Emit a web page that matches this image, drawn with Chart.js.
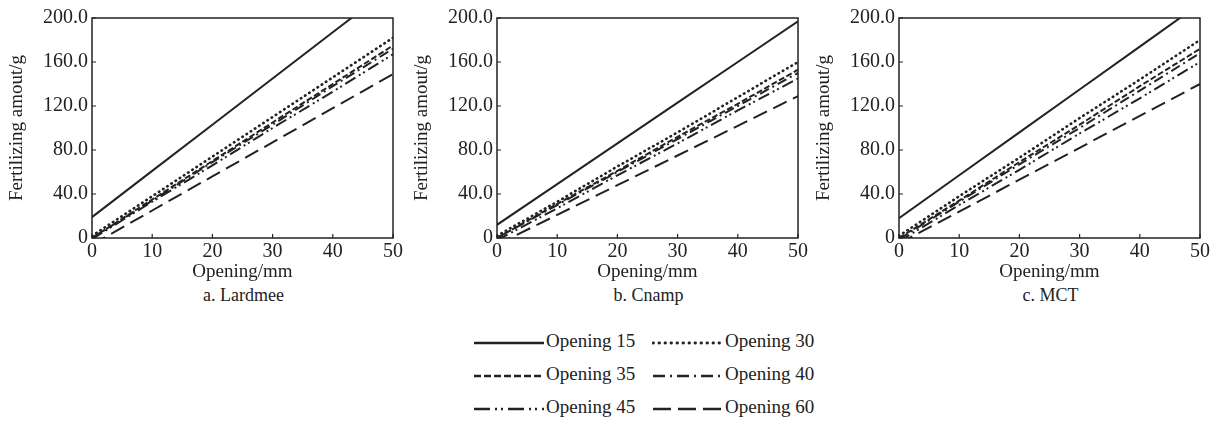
<!DOCTYPE html>
<html>
<head>
<meta charset="utf-8">
<script src="https://cdn.jsdelivr.net/npm/chart.js@4.4.1/dist/chart.umd.min.js"></script>
<style>
  body { margin: 0; background: #fff; width: 1218px; height: 425px; position: relative; overflow: hidden; font-family: "Liberation Serif", "Times New Roman", serif; color: #222; }
  .panel { position: absolute; top: 0; width: 405px; height: 283px; }
  .sub { position: absolute; top: 285px; font-size: 18px; text-align: center; width: 303px; font-family: "Liberation Serif", serif; }
  .legend { position: absolute; font-size: 19px; font-family: "Liberation Serif", serif; }
  .item { position: absolute; white-space: nowrap; height: 24px; line-height: 24px; font-family: "Liberation Serif", serif; }
  .item svg { vertical-align: middle; margin-right: 2px; }
</style>
</head>
<body>
<div class="panel" style="left:0px"><canvas id="c1"></canvas></div>
<div class="panel" style="left:405px"><canvas id="c2"></canvas></div>
<div class="panel" style="left:807px"><canvas id="c3"></canvas></div>
<div class="sub" style="left:92px">a. Lardmee</div>
<div class="sub" style="left:497px">b. Cnamp</div>
<div class="sub" style="left:899px">c. MCT</div>
<div id="legend" class="legend"></div>

<script>
"use strict";

// Opening/mm
const openings = [0, 10, 20, 30, 40, 50];
const series_names = ["Opening 15", "Opening 30", "Opening 35", "Opening 40", "Opening 45", "Opening 60"];
const y_ticks = [0, 40, 80, 120, 160, 200];

// a. Lardmee
const lardmee_15 = [19, 61, 103, 145, 187, 229];
const lardmee_30 = [2, 38, 74, 110, 146, 182];
const lardmee_35 = [0, 35, 70, 105, 140, 175];
const lardmee_40 = [0, 34, 69, 103, 138, 172];
const lardmee_45 = [-1, 33, 66, 100, 133, 167];
const lardmee_60 = [-6, 25, 56, 87, 118, 149];

// b. Cnamp
const cnamp_15 = [12, 49, 86, 123, 160, 197];
const cnamp_30 = [2, 33, 65, 96, 128, 160];
const cnamp_35 = [0, 31, 61, 92, 122, 153];
const cnamp_40 = [0, 30, 60, 90, 120, 150];
const cnamp_45 = [-2, 27, 57, 86, 116, 145];
const cnamp_60 = [-6, 21, 48, 75, 102, 129];

// c. MCT
const mct_15 = [18, 57, 96, 135, 174, 213];
const mct_30 = [2, 38, 73, 109, 144, 180];
const mct_35 = [0, 34, 69, 103, 138, 172];
const mct_40 = [-1, 33, 67, 100, 134, 168];
const mct_45 = [-3, 30, 62, 95, 127, 160];
const mct_60 = [-5, 24, 53, 82, 111, 140];

// line styles per series
const dashes = [[], [0.5, 4.5], [6, 2.5], [10, 4, 2, 4], [12, 4, 2, 3, 2, 4], [15, 7]];
const widths = [2, 2.6, 2, 2, 2, 2];
const ink = "#222";
const font_name = "'Liberation Serif', serif";

// frame + inward ticks
const frame_plugin = {
  id: "frame",
  afterDraw(chart) {
    const { ctx, chartArea, scales } = chart;
    ctx.save();
    ctx.strokeStyle = ink;
    ctx.lineWidth = 1.5;
    ctx.strokeRect(chartArea.left, chartArea.top, chartArea.right - chartArea.left, chartArea.bottom - chartArea.top);
    ctx.lineWidth = 1.2;
    ctx.beginPath();
    openings.forEach((v) => {
      const px = scales.x.getPixelForValue(v);
      ctx.moveTo(px, chartArea.bottom);
      ctx.lineTo(px, chartArea.bottom - 4);
    });
    y_ticks.forEach((v) => {
      const py = scales.y.getPixelForValue(v);
      ctx.moveTo(chartArea.left, py);
      ctx.lineTo(chartArea.left + 4, py);
    });
    ctx.stroke();
    ctx.restore();
  },
};

function make_chart(id, rows) {
  const datasets = rows.map((vals, i) => ({
    label: series_names[i],
    data: openings.map((x, k) => ({ x: x, y: vals[k] })),
    borderColor: ink,
    borderWidth: widths[i],
    borderDash: dashes[i],
    borderCapStyle: i === 1 ? "round" : "butt",
    pointRadius: 0,
    fill: false,
    tension: 0,
  }));

  new Chart(document.getElementById(id), {
    type: "line",
    data: { datasets: datasets },
    plugins: [frame_plugin],
    options: {
      responsive: true,
      maintainAspectRatio: false,
      animation: false,
      layout: { padding: { top: 18, right: 10, left: 6, bottom: 0 } },
      plugins: { legend: { display: false }, tooltip: { enabled: false } },
      scales: {
        x: {
          type: "linear",
          min: 0,
          max: 50,
          afterBuildTicks: (scale) => { scale.ticks = openings.map((v) => ({ value: v })); },
          afterFit: (scale) => { scale.height = 45; },
          grid: { display: false, drawTicks: false },
          border: { display: false },
          ticks: { color: ink, font: { family: font_name, size: 20 }, padding: 2 },
          title: { display: true, text: "Opening/mm", color: ink, font: { family: font_name, size: 19 }, padding: { top: 0, bottom: 0 } },
        },
        y: {
          min: 0,
          max: 200,
          afterBuildTicks: (scale) => { scale.ticks = y_ticks.map((v) => ({ value: v })); },
          afterFit: (scale) => { scale.width = 86; },
          grid: { display: false, drawTicks: false },
          border: { display: false },
          ticks: {
            color: ink,
            font: { family: font_name, size: 20 },
            padding: 4,
            callback: (v) => (v === 0 ? "0" : v.toFixed(1)),
          },
          title: { display: true, text: "Fertilizing amout/g", color: ink, font: { family: font_name, size: 19 }, padding: { top: 0, bottom: 0 } },
        },
      },
    },
  });
}

make_chart("c1", [lardmee_15, lardmee_30, lardmee_35, lardmee_40, lardmee_45, lardmee_60]);
make_chart("c2", [cnamp_15, cnamp_30, cnamp_35, cnamp_40, cnamp_45, cnamp_60]);
make_chart("c3", [mct_15, mct_30, mct_35, mct_40, mct_45, mct_60]);

// legend: two columns, three rows
const legend_dashes = [[], [0.5, 5.5], [7, 3], [12, 5, 2, 5], [16, 5, 2, 4, 2, 5], [18, 7]];
const legend = document.getElementById("legend");
const col_x = [473, 652];
const sample_w = 71;
const row_y = [329, 362, 395];
series_names.forEach((name, i) => {
  const col = i % 2;
  const row = Math.floor(i / 2);
  const div = document.createElement("div");
  div.className = "item";
  div.style.left = col_x[col] + "px";
  div.style.top = row_y[row] + "px";
  const dash = legend_dashes[i].join(" ");
  const cap = i === 1 ? "round" : "butt";
  const sw = i === 1 ? 2.8 : 2.4;
  div.innerHTML =
    '<svg width="' + sample_w + '" height="10"><line x1="1" y1="5" x2="' + sample_w +
    '" y2="5" stroke="' + ink + '" stroke-width="' + sw + '" stroke-dasharray="' + dash +
    '" stroke-linecap="' + cap + '"/></svg>' + name;
  legend.appendChild(div);
});
</script>
</body>
</html>
